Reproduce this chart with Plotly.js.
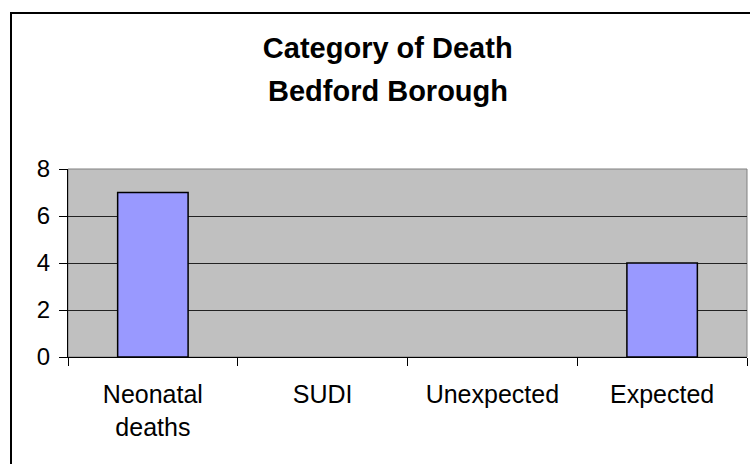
<!DOCTYPE html>
<html>
<head>
<meta charset="utf-8">
<script src="https://cdn.plot.ly/plotly-3.0.1.min.js"></script>
<style>
  html, body { margin: 0; padding: 0; background: #fff; }
  #wrap { position: relative; width: 750px; height: 464px; overflow: hidden; }
  #chart { position: absolute; left: 0; top: 0; width: 750px; height: 464px; }
  #frame { position: absolute; left: 10px; top: 12px; width: 800px; height: 500px;
           border-top: 2px solid #000; border-left: 2px solid #000; pointer-events: none; }
</style>
</head>
<body>
<div id="wrap">
  <div id="chart"></div>
  <div id="frame"></div>
</div>
<script>
const categories = ["Neonatal<br>deaths", "SUDI", "Unexpected", "Expected"];
const deaths = [7, 0, 0, 4];
const yTicks = [0, 2, 4, 6, 8];
const titleLines = ["Category of Death", "Bedford Borough"];

const FONT = "Liberation Sans, Arial, sans-serif";

const data = [{
  type: "bar",
  x: categories,
  y: deaths,
  width: 0.415,
  marker: {
    color: "#9999FF",
    line: { color: "#000000", width: deaths.map(v => v > 0 ? 1.5 : 0) }
  },
  hoverinfo: "x+y"
}];

const layout = {
  width: 750,
  height: 464,
  margin: { l: 68, r: 3, t: 169, b: 107, pad: 0 },
  paper_bgcolor: "rgba(0,0,0,0)",
  plot_bgcolor: "#C0C0C0",
  showlegend: false,
  title: {
    text: "<b>" + titleLines[0] + "</b>",
    font: { family: FONT, size: 29, color: "#000" },
    xref: "container", x: 0.517, xanchor: "center",
    yref: "container", y: 1 - 48 / 464, yanchor: "middle"
  },
  annotations: [{
    text: "<b>" + titleLines[1] + "</b>",
    font: { family: FONT, size: 29, color: "#000" },
    xref: "paper", x: (388 - 68) / 679, xanchor: "center",
    yref: "paper", y: 1 + (169 - 91) / 188, yanchor: "middle",
    showarrow: false
  }],
  xaxis: {
    type: "category",
    tickson: "boundaries",
    ticks: "outside",
    ticklen: 8,
    tickcolor: "#000",
    tickwidth: 1,
    showline: true,
    linecolor: "#000",
    linewidth: 1,
    showgrid: false,
    tickfont: { family: FONT, size: 25, color: "#000" },
    ticklabelstandoff: 15,
    fixedrange: true
  },
  yaxis: {
    range: [0, 8],
    tickvals: yTicks,
    ticktext: yTicks.map(String),
    ticks: "outside",
    ticklen: 8,
    tickcolor: "#000",
    showline: true,
    linecolor: "#000",
    linewidth: 1,
    showgrid: true,
    gridcolor: "#222222",
    gridwidth: 1,
    zeroline: false,
    tickfont: { family: FONT, size: 24, color: "#000" },
    ticklabelstandoff: 4,
    fixedrange: true
  },
  shapes: [{
    type: "rect", xref: "paper", yref: "paper",
    x0: 0, x1: 1, y0: 0, y1: 1,
    line: { color: "#808080", width: 1 },
    layer: "below"
  }]
};

Plotly.newPlot("chart", data, layout, { displayModeBar: false, staticPlot: true });
</script>
</body>
</html>
